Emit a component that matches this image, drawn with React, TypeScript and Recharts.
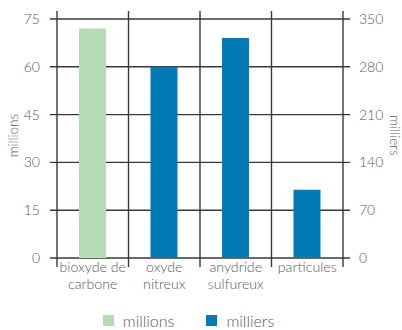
import React from 'react';
import { BarChart, Bar, XAxis, YAxis, CartesianGrid, Legend } from 'recharts';

const categories = ['bioxyde de carbone', 'oxyde nitreux', 'anydride sulfureux', 'particules'];
const categoryLines = [['bioxyde de', 'carbone'], ['oxyde', 'nitreux'], ['anydride', 'sulfureux'], ['particules']];
const millionsValues = [72, null, null, null];
const milliersValues = [null, 280, 322, 100];
const leftTicks = [0, 15, 30, 45, 60, 75];
const rightTicks = [0, 70, 140, 210, 280, 350];

const GREEN = '#b5dcb6';
const BLUE = '#007bb6';
const GRID = '#383838';
const TEXT = '#5a5a5a';
const FONT = 'Lato, "Open Sans", sans-serif';

const data = categories.map((name, i) => ({
  name,
  millions: millionsValues[i],
  milliers: milliersValues[i],
}));

// grid lines run a little past the plot edges, like the original
const HLine = (p: any) => (
  <line key={p.key} x1={p.x1 - 7} x2={p.x2 + 7} y1={p.y1} y2={p.y2} stroke={GRID} strokeWidth={1.4} />
);
const VLine = (p: any) => (
  <line key={p.key} x1={p.x1} x2={p.x2} y1={p.y1 - 8} y2={p.y2 + 9} stroke={GRID} strokeWidth={1.4} />
);

const CategoryTick = ({ x, y, payload }: any) => {
  const idx = categories.indexOf(payload.value);
  const lines = categoryLines[idx] || [payload.value];
  return (
    <text x={x} y={y} textAnchor="middle" fill={TEXT} fontSize={14.2} fontFamily={FONT} fontWeight={300}>
      {lines.map((l, i) => (
        <tspan key={i} x={x} dy={i === 0 ? 12 : 17}>{l}</tspan>
      ))}
    </text>
  );
};

const SideLabel = ({ viewBox, value, side }: any) => {
  const cx = side === 'left' ? viewBox.x + 13 : viewBox.x + viewBox.width - 7;
  const cy = viewBox.y + viewBox.height / 2 - 3;
  return (
    <text
      x={cx}
      y={cy}
      textAnchor="middle"
      dominantBaseline="central"
      fill={TEXT}
      fontSize={13.5}
      fontFamily={FONT}
      fontWeight={300}
      transform={`rotate(${side === 'left' ? -90 : 90}, ${cx}, ${cy})`}
    >
      {value}
    </text>
  );
};

const LegendContent = () => (
  <div style={{ display: 'flex', justifyContent: 'center', paddingTop: 13, paddingRight: 25, fontFamily: FONT, fontWeight: 300, fontSize: 16, color: TEXT }}>
    {[['millions', GREEN], ['milliers', BLUE]].map(([label, color], i) => (
      <div key={label} style={{ display: 'flex', alignItems: 'center', marginLeft: i ? 32 : 0 }}>
        <span style={{ display: 'inline-block', width: 11, height: 11, background: color, marginRight: 9 }} />
        <span>{label}</span>
      </div>
    ))}
  </div>
);

export default function App() {
  return (
    <div style={{ position: 'absolute', left: 0, top: 0 }}>
      <BarChart width={402} height={330} data={data} margin={{ top: 19, right: 0, bottom: 0, left: 0 }}>
        <CartesianGrid
          xAxisId="a"
          yAxisId="left"
          horizontal={HLine}
          vertical={VLine}
          verticalCoordinatesGenerator={({ offset }: any) =>
            categories.map((_, i) => offset.left + (i * offset.width) / categories.length).concat(offset.left + offset.width)
          }
        />
        <XAxis
          xAxisId="a"
          dataKey="name"
          height={40}
          axisLine={false}
          tickLine={false}
          tickSize={0}
          tick={<CategoryTick />}
          interval={0}
        />
        <XAxis xAxisId="b" dataKey="name" hide />
        <YAxis
          yAxisId="left"
          orientation="left"
          width={57}
          domain={[0, 75]}
          ticks={leftTicks}
          axisLine={false}
          tickLine={false}
          tickSize={0}
          tickMargin={17}
          tick={{ fill: TEXT, fontSize: 14, fontFamily: FONT, fontWeight: 300 }}
          label={<SideLabel value="millions" side="left" />}
        />
        <YAxis
          yAxisId="right"
          orientation="right"
          width={59}
          domain={[0, 350]}
          ticks={rightTicks}
          axisLine={false}
          tickLine={false}
          tickSize={0}
          tickMargin={16}
          tick={{ fill: TEXT, fontSize: 14, fontFamily: FONT, fontWeight: 300, textAnchor: 'start' }}
          label={<SideLabel value="milliers" side="right" />}
        />
        <Bar xAxisId="a" yAxisId="left" dataKey="millions" fill={GREEN} barSize={27} isAnimationActive={false} />
        <Bar xAxisId="b" yAxisId="right" dataKey="milliers" fill={BLUE} barSize={27} isAnimationActive={false} />
        <Legend verticalAlign="bottom" height={32} content={<LegendContent />} />
      </BarChart>
    </div>
  );
}
